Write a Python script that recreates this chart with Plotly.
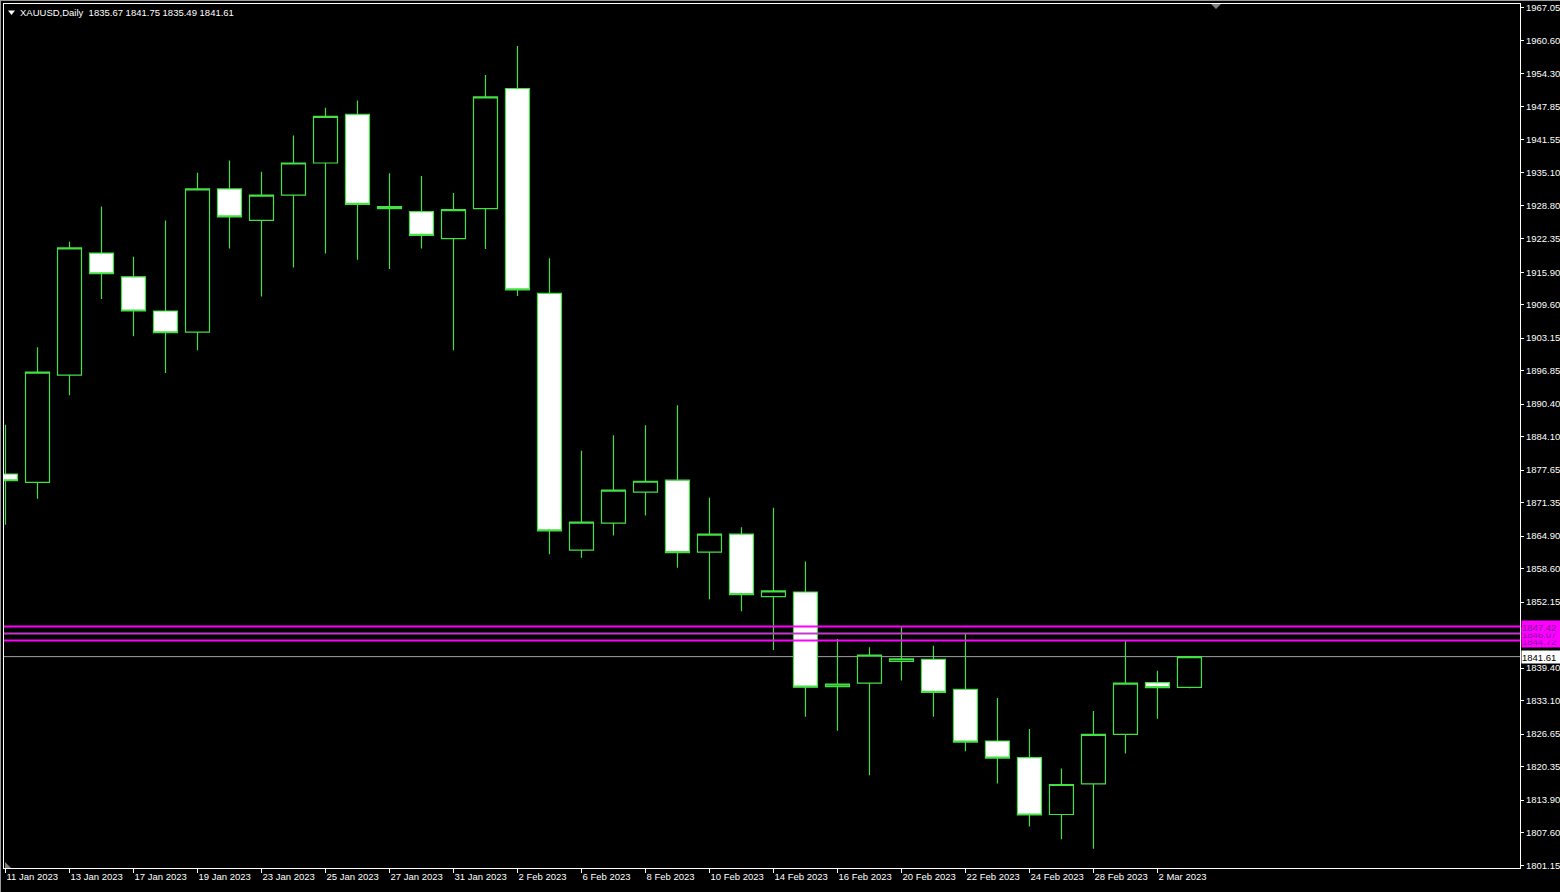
import plotly.graph_objects as go
from datetime import date

# ---------------- data ----------------
symbol = "XAUUSD,Daily"

dates = [
    "2023-01-11", "2023-01-12", "2023-01-13", "2023-01-16", "2023-01-17", "2023-01-18",
    "2023-01-19", "2023-01-20", "2023-01-23", "2023-01-24", "2023-01-25", "2023-01-26",
    "2023-01-27", "2023-01-30", "2023-01-31", "2023-02-01", "2023-02-02", "2023-02-03",
    "2023-02-06", "2023-02-07", "2023-02-08", "2023-02-09", "2023-02-10", "2023-02-13",
    "2023-02-14", "2023-02-15", "2023-02-16", "2023-02-17", "2023-02-20", "2023-02-21",
    "2023-02-22", "2023-02-23", "2023-02-24", "2023-02-27", "2023-02-28", "2023-03-01",
    "2023-03-02", "2023-03-03",
]

opens = [
    1876.9, 1875.3, 1896.0, 1919.6, 1915.0, 1908.4, 1904.3, 1932.0, 1925.9, 1930.8,
    1937.0, 1946.4, 1928.6, 1927.6, 1922.4, 1928.2, 1951.4, 1911.8, 1862.2, 1867.4,
    1873.4, 1875.7, 1861.8, 1865.3, 1853.2, 1854.1, 1835.8, 1836.5, 1840.7, 1841.1,
    1835.3, 1825.3, 1822.1, 1811.1, 1817.0, 1826.6, 1836.6, 1835.67,
]
highs = [
    1886.4, 1901.4, 1921.8, 1928.6, 1918.9, 1925.9, 1935.1, 1937.5, 1935.3, 1942.3,
    1947.7, 1949.1, 1935.0, 1934.5, 1931.2, 1954.0, 1959.6, 1918.6, 1881.4, 1884.4,
    1886.3, 1890.2, 1872.3, 1866.6, 1870.4, 1860.0, 1845.0, 1843.4, 1847.4, 1843.7,
    1846.0, 1833.6, 1827.6, 1820.0, 1831.1, 1844.7, 1838.9, 1841.75,
]
lows = [
    1867.1, 1872.1, 1892.1, 1910.7, 1903.5, 1896.4, 1900.8, 1920.5, 1911.2, 1916.8,
    1919.5, 1918.3, 1916.5, 1920.5, 1900.8, 1920.4, 1911.3, 1861.4, 1860.7, 1865.0,
    1868.9, 1858.8, 1852.7, 1850.4, 1842.9, 1830.0, 1827.3, 1818.7, 1837.0, 1830.0,
    1823.3, 1817.1, 1808.8, 1806.3, 1804.5, 1822.9, 1829.6, 1835.49,
]
closes = [
    1875.6, 1896.6, 1920.6, 1915.6, 1908.4, 1904.2, 1932.0, 1926.6, 1930.8, 1937.0,
    1946.0, 1929.0, 1928.2, 1923.0, 1928.0, 1949.8, 1912.5, 1865.9, 1867.6, 1873.8,
    1875.5, 1861.7, 1865.3, 1853.6, 1854.3, 1835.7, 1836.3, 1841.9, 1841.2, 1834.7,
    1825.1, 1822.0, 1811.0, 1816.9, 1826.6, 1836.5, 1835.6, 1841.61,
]

price_ticks = [
    1967.05, 1960.60, 1954.30, 1947.85, 1941.55, 1935.10, 1928.80, 1922.35, 1915.90,
    1909.60, 1903.15, 1896.85, 1890.40, 1884.10, 1877.65, 1871.35, 1864.90, 1858.60,
    1852.15, 1839.40, 1833.10, 1826.65, 1820.35, 1813.90, 1807.60, 1801.15,
]

level_lines = [1847.42, 1846.07, 1844.72]

# ---------------- styling ----------------
W, H = 1560, 892
ML, MR, MT, MB = 4, 40, 4, 24
PW, PH = W - ML - MR, H - MT - MB
FONT = "Liberation Sans, Arial, sans-serif"
GREEN = "#44e044"
MAGENTA = "#ff00ff"

x_idx = list(range(len(dates)))
parsed = [date.fromisoformat(d) for d in dates]
tick_idx = x_idx[::2]
tick_text = [f"{d.day} {d.strftime('%b %Y')}" for d in parsed[::2]]


def px_x(p):
    return (p - ML) / PW


def px_y(p):
    return (H - MB - p) / PH


fig = go.Figure(
    go.Candlestick(
        x=x_idx, open=opens, high=highs, low=lows, close=closes,
        increasing=dict(line=dict(color=GREEN, width=1.2), fillcolor="#000000"),
        decreasing=dict(line=dict(color=GREEN, width=1.2), fillcolor="#ffffff"),
        whiskerwidth=0, hoverinfo="skip",
    )
)

shapes = []
# close price line
shapes.append(dict(type="line", xref="paper", x0=0, x1=1, yref="y",
                   y0=closes[-1], y1=closes[-1], line=dict(color="#a0a0a0", width=1), layer="below"))
# horizontal level lines
for i, lv in enumerate(level_lines):
    shapes.append(dict(type="line", xref="paper", x0=0, x1=1, yref="y", y0=lv, y1=lv,
                       line=dict(color=MAGENTA if i != 1 else "#c838c8", width=2), layer="above"))
# header triangle
shapes.append(dict(type="path", xref="paper", yref="paper",
                   path=f"M {px_x(8)},{px_y(10.5)} L {px_x(15)},{px_y(10.5)} L {px_x(11.5)},{px_y(15)} Z",
                   fillcolor="white", line=dict(width=0)))
# chart shift marker
shapes.append(dict(type="path", xref="paper", yref="paper",
                   path=f"M {px_x(1211)},{px_y(4)} L {px_x(1221)},{px_y(4)} L {px_x(1216)},{px_y(9)} Z",
                   fillcolor="#808080", line=dict(width=0)))
# bottom-left marker
shapes.append(dict(type="path", xref="paper", yref="paper",
                   path=f"M {px_x(5)},{px_y(868)} L {px_x(5)},{px_y(862)} L {px_x(11)},{px_y(868)} Z",
                   fillcolor="#808080", line=dict(width=0)))
# window border lines (top/left)
shapes.append(dict(type="line", xref="paper", yref="paper", x0=px_x(0), x1=px_x(W),
                   y0=px_y(0.5), y1=px_y(0.5), line=dict(color="#9a9a9a", width=1)))
shapes.append(dict(type="line", xref="paper", yref="paper", x0=px_x(0.5), x1=px_x(0.5),
                   y0=px_y(0), y1=px_y(H), line=dict(color="#9a9a9a", width=1)))

annotations = []
header = f"{symbol}  {opens[-1]:.2f} {highs[-1]:.2f} {lows[-1]:.2f} {closes[-1]:.2f}"
annotations.append(dict(text=header, xref="paper", yref="paper", x=px_x(18), y=px_y(13),
                        xanchor="left", yanchor="middle", showarrow=False,
                        font=dict(family=FONT, size=9.5, color="white")))
# level labels (bottom first so the top one is drawn last)
for lv in reversed(level_lines):
    annotations.append(dict(text=f"{lv:.2f}", xref="paper", yref="y", x=px_x(1521), y=lv,
                            xanchor="left", yanchor="middle", showarrow=False, align="left",
                            width=39, height=12, bgcolor=MAGENTA, borderpad=0,
                            font=dict(family=FONT, size=9.5, color="#7a1a9a")))
annotations.append(dict(text=f"{closes[-1]:.2f}", xref="paper", yref="y", x=px_x(1521), y=closes[-1],
                        xanchor="left", yanchor="middle", showarrow=False, align="left",
                        width=39, height=12, bgcolor="white", borderpad=0,
                        font=dict(family=FONT, size=9.5, color="black")))

fig.update_layout(
    width=W, height=H,
    margin=dict(l=ML, r=MR, t=MT, b=MB, pad=0, autoexpand=False),
    paper_bgcolor="#000000", plot_bgcolor="#000000",
    showlegend=False, boxgap=0.25, boxgroupgap=0, dragmode=False,
    font=dict(family=FONT, size=9.5, color="white"),
    xaxis=dict(
        range=[-0.047, 47.33], tickmode="array", tickvals=tick_idx, ticktext=tick_text,
        ticks="outside", ticklen=4, tickcolor="white", tickwidth=1,
        showgrid=False, zeroline=False, showline=True, linecolor="white", linewidth=1,
        mirror=True, ticklabelposition="outside right", rangeslider=dict(visible=False),
        fixedrange=True, tickfont=dict(family=FONT, size=9.5, color="white"),
    ),
    yaxis=dict(
        side="right", range=[1800.76, 1967.73], tickmode="array", tickvals=price_ticks,
        ticktext=[f"{v:.2f}" for v in price_ticks],
        ticks="outside", ticklen=3, tickcolor="white", tickwidth=1,
        showgrid=False, zeroline=False, showline=True, linecolor="white", linewidth=1,
        mirror=True, fixedrange=True, tickfont=dict(family=FONT, size=9.5, color="white"),
    ),
    shapes=shapes, annotations=annotations,
)

fig.write_html(
    "out.html",
    config={"displayModeBar": False},
    post_script="document.body.style.margin='0';document.body.style.overflow='hidden';",
)
